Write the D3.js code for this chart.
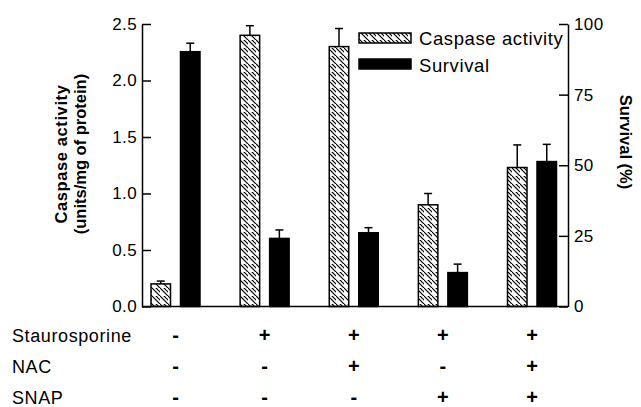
<!DOCTYPE html>
<html>
<head>
<meta charset="utf-8">
<script src="https://cdn.jsdelivr.net/npm/d3@7"></script>
<style>
  html, body { margin: 0; padding: 0; background: #fff; }
  svg { display: block; font-family: "Liberation Sans", Arial, Helvetica, sans-serif; }
</style>
</head>
<body>
<svg id="chart" width="641" height="407"></svg>
<script>
// ---- data ----
const groups = ["G1", "G2", "G3", "G4", "G5"];
const caspase = [0.20, 2.40, 2.30, 0.90, 1.23];
const caspaseErr = [0.025, 0.085, 0.16, 0.10, 0.20];
const survival = [90.2, 24.1, 26.1, 12.0, 51.3];
const survivalErr = [3.0, 3.0, 1.8, 3.0, 6.1];
const leftTicks = [0, 0.5, 1.0, 1.5, 2.0, 2.5];
const rightTicks = [0, 25, 50, 75, 100];
const treatments = ["Staurosporine", "NAC", "SNAP"];
const treatmentSigns = [
  ["-", "+", "+", "+", "+"],
  ["-", "-", "+", "-", "+"],
  ["-", "-", "-", "+", "+"]
];
const legendLabels = ["Caspase activity", "Survival"];

// ---- layout ----
const svg = d3.select("#chart");
const axL = 142, axR = 568, yTop = 24, yBot = 306.5;

const x = d3.scalePoint().domain(groups).range([175.5, 532]);
const yL = d3.scaleLinear().domain([0, 2.5]).range([yBot, yTop]);
const yR = d3.scaleLinear().domain([0, 100]).range([yBot, yTop]);

const defs = svg.append("defs");
const P = 8;
const pat = defs.append("pattern")
  .attr("id", "hatch").attr("patternUnits", "userSpaceOnUse")
  .attr("width", P).attr("height", P);
pat.append("rect").attr("width", P).attr("height", P).attr("fill", "#fff");
pat.append("path")
  .attr("d", `M-1,-1 L${P + 1},${P + 1} M-${P / 2 + 1},${P / 2 - 1} L1,${P + 1} M${P / 2 - 1},-1 L${P + 1},${P / 2 + 1}`)
  .attr("stroke", "#000").attr("stroke-width", 1.2);

const barW = 19.5, gap = 5;
const caspX = cx => cx - gap - barW;
const survX = cx => cx + gap;

// caspase bars
svg.append("g").selectAll("rect").data(groups).join("rect")
  .attr("x", (g) => caspX(x(g)))
  .attr("y", (g, i) => yL(caspase[i]))
  .attr("width", barW)
  .attr("height", (g, i) => yBot - yL(caspase[i]))
  .attr("fill", "url(#hatch)").attr("stroke", "#000").attr("stroke-width", 1.5);

// survival bars
svg.append("g").selectAll("rect").data(groups).join("rect")
  .attr("x", (g) => survX(x(g)))
  .attr("y", (g, i) => yR(survival[i]))
  .attr("width", barW)
  .attr("height", (g, i) => yBot - yR(survival[i]))
  .attr("fill", "#000").attr("stroke", "#000").attr("stroke-width", 1.5);

// error bars
function errBars(xf, scale, vals, errs) {
  const g = svg.append("g").attr("stroke", "#000").attr("stroke-width", 1.5).attr("fill", "none");
  groups.forEach((grp, i) => {
    const cx = xf(x(grp)) + barW / 2;
    const y0 = scale(vals[i]), y1 = scale(vals[i] + errs[i]);
    g.append("line").attr("x1", cx).attr("x2", cx).attr("y1", y0).attr("y2", y1);
    g.append("line").attr("x1", cx - 4).attr("x2", cx + 4).attr("y1", y1).attr("y2", y1);
  });
}
errBars(caspX, yL, caspase, caspaseErr);
errBars(survX, yR, survival, survivalErr);

// axes
const leftAxis = d3.axisLeft(yL).tickValues(leftTicks).tickFormat(d3.format(".1f"))
  .tickSizeInner(-9).tickSizeOuter(0).tickPadding(5);
const gL = svg.append("g").attr("transform", `translate(${axL},0)`).call(leftAxis);
const rightAxis = d3.axisRight(yR).tickValues(rightTicks).tickFormat(d3.format("d"))
  .tickSizeInner(-9).tickSizeOuter(0).tickPadding(6);
const gR = svg.append("g").attr("transform", `translate(${axR},0)`).call(rightAxis);
[gL, gR].forEach(g => {
  g.selectAll("path,line").attr("stroke", "#000").attr("stroke-width", 1.5);
  g.selectAll("text").attr("font-size", 17).attr("fill", "#000").attr("letter-spacing", 0.4)
    .attr("font-family", "Liberation Sans, Arial, sans-serif");
});
svg.append("line").attr("x1", axL).attr("x2", axR).attr("y1", yL(0)).attr("y2", yL(0))
  .attr("stroke", "#000").attr("stroke-width", 1.5);

// axis titles
const lt = svg.append("text").attr("transform", "translate(75,154) rotate(-90)")
  .attr("text-anchor", "middle").attr("font-weight", "bold").attr("font-size", 16.5);
lt.append("tspan").attr("x", 0).attr("y", -8).text("Caspase activity").attr("letter-spacing", 0.6);
lt.append("tspan").attr("x", 0).attr("y", 11).text("(units/mg of protein)");

svg.append("text").attr("transform", "translate(626,142) rotate(90)")
  .attr("text-anchor", "middle").attr("dominant-baseline", "central")
  .attr("font-weight", "bold").attr("font-size", 16.5).text("Survival (%)");

// legend
const lg = svg.append("g");
lg.append("rect").attr("x", 359).attr("y", 33).attr("width", 52).attr("height", 10)
  .attr("fill", "url(#hatch)").attr("stroke", "#000").attr("stroke-width", 1.5);
lg.append("rect").attr("x", 359).attr("y", 59).attr("width", 52).attr("height", 10)
  .attr("fill", "#000").attr("stroke", "#000").attr("stroke-width", 1.5);
lg.append("text").attr("x", 419).attr("y", 45).attr("font-size", 18.5).attr("letter-spacing", 0.6).text(legendLabels[0]);
lg.append("text").attr("x", 419).attr("y", 72).attr("font-size", 18.5).attr("letter-spacing", 0.6).text(legendLabels[1]);

// treatment table
const rowY = [342, 373, 404];
treatments.forEach((t, r) => {
  svg.append("text").attr("x", 12).attr("y", rowY[r]).attr("font-size", 18)
    .attr("letter-spacing", 0.6).text(t);
  svg.append("g").selectAll("text").data(groups).join("text")
    .attr("x", g => x(g)).attr("y", rowY[r])
    .attr("text-anchor", "middle").attr("font-size", 20).attr("font-weight", "bold")
    .text((g, i) => treatmentSigns[r][i]);
});
</script>
</body>
</html>
